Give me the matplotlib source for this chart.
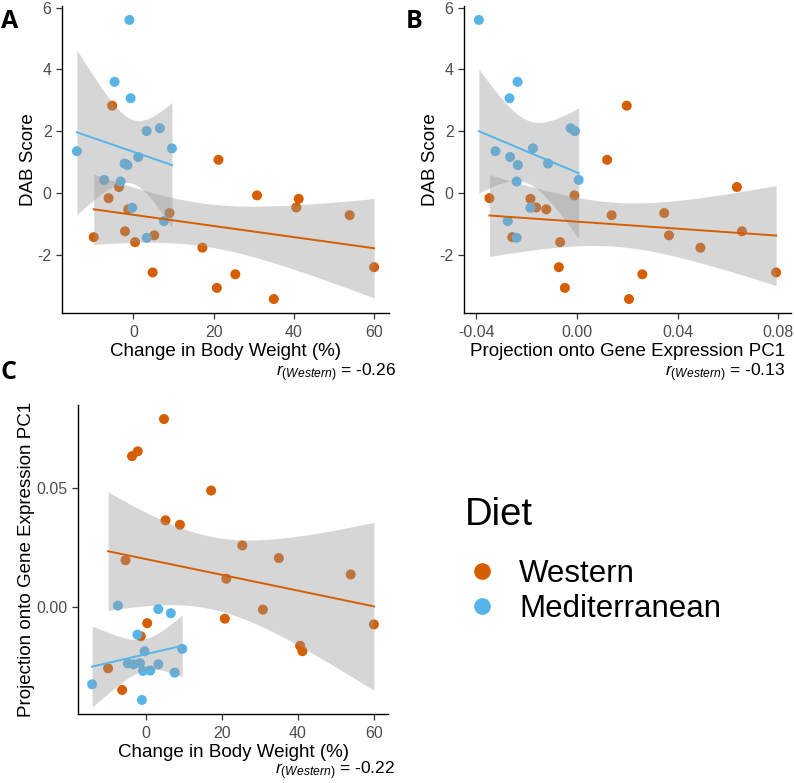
import numpy as np
import matplotlib
matplotlib.use("Agg")
import matplotlib.pyplot as plt
from matplotlib.lines import Line2D

plt.rcParams['font.family'] = ['Liberation Sans', 'DejaVu Sans']
plt.rcParams['mathtext.fontset'] = 'custom'
plt.rcParams['mathtext.it'] = 'Liberation Sans:italic'
plt.rcParams['mathtext.rm'] = 'Liberation Sans'
plt.rcParams['axes.unicode_minus'] = False

# Western diet mice: body weight change (%), DAB score, projection onto PC1
west_weight = [-5.3, 21.2, -3.6, -6.2, 30.8, 41.2, 40.6, -1.3, 9.0, 53.9,
               -2.1, 5.2, -9.9, 0.4, 17.2, 4.8, 25.4, 20.8, 35.0, 60.0]
west_dab = [2.83, 1.08, 0.20, -0.16, -0.07, -0.18, -0.46, -0.52, -0.64, -0.71,
            -1.23, -1.36, -1.42, -1.58, -1.76, -2.56, -2.62, -3.06, -3.42, -2.39]
west_pc1 = [0.0198, 0.0120, 0.0636, -0.0348, -0.0010, -0.0185, -0.0162, -0.0122, 0.0347, 0.0138,
            0.0656, 0.0366, -0.0257, -0.0067, 0.0491, 0.0792, 0.0260, -0.0048, 0.0207, -0.0072]

# Mediterranean diet mice
med_weight = [-1.0, -4.7, -0.7, 6.6, 3.3, 9.6, -14.1, 1.2, -2.2, -1.5,
              -7.3, -3.2, -0.3, 7.6, 3.3]
med_dab = [5.60, 3.60, 3.07, 2.10, 2.01, 1.45, 1.36, 1.17, 0.96, 0.91,
           0.43, 0.38, -0.47, -0.90, -1.44]
med_pc1 = [-0.0390, -0.0236, -0.0268, -0.0025, -0.0008, -0.0175, -0.0324, -0.0266, -0.0115, -0.0235,
           0.0007, -0.0240, -0.0185, -0.0275, -0.0240]

# correlations printed under each panel (Western group)
r_values = [-0.26, -0.13, -0.22]

diets = ['Western', 'Mediterranean']
colors = {'Western': '#D55E00', 'Mediterranean': '#56B4E9'}
data = {
    'Western': {'weight': west_weight, 'dab': west_dab, 'pc1': west_pc1},
    'Mediterranean': {'weight': med_weight, 'dab': med_dab, 'pc1': med_pc1},
}

# 97.5% t quantiles for the lm confidence band
T975 = {13: 2.1604, 18: 2.1009}


def lm_band(x, y, n_grid=80):
    x = np.asarray(x, float)
    y = np.asarray(y, float)
    n = len(x)
    b, a = np.polyfit(x, y, 1)
    resid = y - (a + b * x)
    s = np.sqrt(np.sum(resid ** 2) / (n - 2))
    sxx = np.sum((x - x.mean()) ** 2)
    xg = np.linspace(x.min(), x.max(), n_grid)
    yg = a + b * xg
    se = s * np.sqrt(1.0 / n + (xg - x.mean()) ** 2 / sxx)
    t = T975[n - 2]
    return xg, yg, yg - t * se, yg + t * se


def panel(ax, xkey, ykey):
    for d in diets:
        ax.scatter(data[d][xkey], data[d][ykey], s=52, color=colors[d],
                   edgecolors='none', zorder=2)
    for d in diets:
        xg, yg, lo, hi = lm_band(data[d][xkey], data[d][ykey])
        ax.fill_between(xg, lo, hi, color='#999999', alpha=0.4, lw=0, zorder=3)
        ax.plot(xg, yg, color=colors[d], lw=1.4, zorder=4)
    for sp in ['top', 'right']:
        ax.spines[sp].set_visible(False)
    for sp in ['left', 'bottom']:
        ax.spines[sp].set_linewidth(1.0)
    ax.tick_params(labelsize=11.5, labelcolor='#4D4D4D', color='#333333',
                   length=4, width=0.9)
    ax.tick_params(axis='x', pad=4.5)
    # ggplot-style 5% expansion
    allx = np.concatenate([data[d][xkey] for d in diets])
    ally = np.concatenate([data[d][ykey] for d in diets])
    rx = allx.max() - allx.min()
    ry = ally.max() - ally.min()
    ax.set_xlim(allx.min() - 0.05 * rx, allx.max() + 0.05 * rx)
    ax.set_ylim(ally.min() - 0.05 * ry, ally.max() + 0.05 * ry)


fig = plt.figure(figsize=(7.94, 7.83), dpi=100)
W, H = 794, 783


def add_axes(l, r, t, b):
    return fig.add_axes([l / W, 1 - b / H, (r - l) / W, (b - t) / H])


axA = add_axes(62, 389, 6, 313)
axB = add_axes(464, 791, 6, 313)
axC = add_axes(78, 388, 405, 714)

panel(axA, 'weight', 'dab')
axA.set_xticks([0, 20, 40, 60])
axA.set_yticks([-2, 0, 2, 4, 6])
axA.set_xlabel('Change in Body Weight (%)', fontsize=13.5, labelpad=2)
axA.set_ylabel('DAB Score', fontsize=13.5, labelpad=0)

panel(axB, 'pc1', 'dab')
axB.set_xticks([-0.04, 0.00, 0.04, 0.08])
axB.set_xticklabels(['-0.04', '0.00', '0.04', '0.08'])
axB.set_yticks([-2, 0, 2, 4, 6])
axB.set_xlabel('Projection onto Gene Expression PC1', fontsize=13.5, labelpad=2)
axB.set_ylabel('DAB Score', fontsize=13.5, labelpad=0)

panel(axC, 'weight', 'pc1')
axC.set_xticks([0, 20, 40, 60])
axC.set_yticks([0.00, 0.05])
axC.set_yticklabels(['0.00', '0.05'])
axC.set_xlabel('Change in Body Weight (%)', fontsize=13.5, labelpad=2)
axC.set_ylabel('Projection onto Gene Expression PC1', fontsize=13.5, labelpad=1)

# r labels under each panel
r_pos = [(396, 373), (785, 373), (395, 771)]
for r, (px, py) in zip(r_values, r_pos):
    fig.text(px / W, 1 - py / H, r'$r_{(Western)}$' + ' = {:.2f}'.format(r),
             ha='right', va='center', fontsize=12.5)

# panel letters
for lab, (px, py) in zip(['A', 'B', 'C'], [(1, 21), (406, 21), (1, 373)]):
    fig.text(px / W, 1 - py / H, lab, fontsize=18, fontweight='bold',
             family='Open Sans', ha='left', va='center')

# legend
fig.text(465 / W, 1 - 515 / H, 'Diet', fontsize=27.5, ha='left', va='center')
handles = [Line2D([], [], marker='o', ls='', color=colors[d], markersize=11) for d in diets]
fig.legend(handles, diets, loc='upper left',
           bbox_to_anchor=(466 / W, 1 - 559 / H), frameon=False,
           fontsize=22.5, handletextpad=0.7, labelspacing=0.15,
           borderpad=0, borderaxespad=0, handlelength=1.0)

fig.savefig('out.png', dpi=100)
